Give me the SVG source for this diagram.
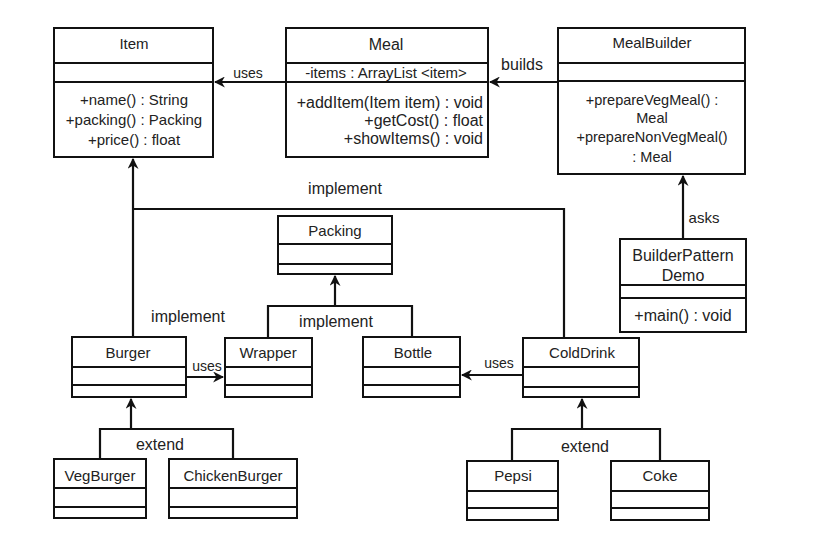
<svg xmlns="http://www.w3.org/2000/svg" width="828" height="538" viewBox="0 0 828 538">
<defs>
<style>
.b{fill:#fff;stroke:#111;stroke-width:2}
.l{stroke:#111;stroke-width:2;fill:none}
.c{stroke:#111;stroke-width:2.2;fill:none}
text{font-family:"Liberation Sans",Arial,sans-serif;font-size:15px;fill:#222}
.m{text-anchor:middle}
.e{text-anchor:end}
.lb{font-size:16px}
.s14{font-size:14px}
.s16{font-size:16px}
.s145{font-size:14.5px}
</style>
<marker id="ar" viewBox="0 0 10 10" refX="9" refY="5" markerWidth="5" markerHeight="5" orient="auto" markerUnits="strokeWidth">
<path d="M0,0 L10,5 L0,10 L3,5 Z" fill="#111"/>
</marker>
</defs>
<rect width="828" height="538" fill="#fff"/>
<g id="connectors">
<path class="c" d="M286,82 H215" marker-end="url(#ar)"/>
<path class="c" d="M557,82 H490" marker-end="url(#ar)"/>
<path class="c" d="M683,238 V176" marker-end="url(#ar)"/>
<path class="c" d="M133,337 V159" marker-end="url(#ar)"/>
<path class="c" d="M133,209 H564 V338"/>
<path class="c" d="M268,338 V306 H412 V337"/>
<path class="c" d="M335,306 V276" marker-end="url(#ar)"/>
<path class="c" d="M186,377 H223" marker-end="url(#ar)"/>
<path class="c" d="M523,375 H462" marker-end="url(#ar)"/>
<path class="c" d="M100,459 V429 H233 V459"/>
<path class="c" d="M131,429 V399" marker-end="url(#ar)"/>
<path class="c" d="M512,461 V429 H660 V461"/>
<path class="c" d="M582,429 V399" marker-end="url(#ar)"/>
<text x="248" y="78" class="m s14">uses</text>
<text x="522" y="70" class="m lb">builds</text>
<text x="704" y="223" class="m">asks</text>
<text x="345" y="194" class="m lb">implement</text>
<text x="188" y="322" class="m lb">implement</text>
<text x="336" y="327" class="m lb">implement</text>
<text x="207" y="371" class="m s14">uses</text>
<text x="499" y="368" class="m s14">uses</text>
<text x="160" y="450" class="m lb">extend</text>
<text x="585" y="452" class="m lb">extend</text>
</g>
<g id="item">
<rect class="b" x="54" y="28" width="159" height="129"/>
<path class="l" d="M54,63 H213 M54,82 H213"/>
<text x="134" y="49" class="m">Item</text>
<text x="134" y="105" class="m">+name() : String</text>
<text x="134" y="125" class="m">+packing() : Packing</text>
<text x="134" y="145" class="m">+price() : float</text>
</g>
<g id="meal">
<rect class="b" x="286" y="28" width="202" height="129"/>
<path class="l" d="M286,63 H488 M286,82 H488"/>
<text x="386" y="50" class="m s16">Meal</text>
<text x="386" y="78" class="m">-items : ArrayList &lt;item&gt;</text>
<text x="483" y="108" class="e s16">+addItem(Item item) : void</text>
<text x="483" y="126" class="e s16">+getCost() : float</text>
<text x="483" y="144" class="e s16">+showItems() : void</text>
</g>
<g id="mealbuilder">
<rect class="b" x="558" y="28" width="187" height="146"/>
<path class="l" d="M558,63 H745 M558,81 H745"/>
<text x="652" y="48" class="m">MealBuilder</text>
<text x="652" y="105" class="m s145">+prepareVegMeal() :</text>
<text x="652" y="123" class="m s145">Meal</text>
<text x="652" y="142" class="m s145">+prepareNonVegMeal()</text>
<text x="652" y="162" class="m s145">: Meal</text>
</g>
<g id="builderpatterndemo">
<rect class="b" x="620" y="239" width="126" height="93"/>
<path class="l" d="M620,285 H746 M620,298 H746"/>
<text x="683" y="261" class="m s16">BuilderPattern</text>
<text x="683" y="281" class="m s16">Demo</text>
<text x="683" y="321" class="m s16">+main() : void</text>
</g>
<g id="packing">
<rect class="b" x="278" y="216" width="114" height="58"/>
<path class="l" d="M278,244 H392 M278,264 H392"/>
<text x="335" y="236" class="m">Packing</text>
</g>
<g id="burger">
<rect class="b" x="72" y="337" width="114" height="60"/>
<path class="l" d="M72,367 H186 M72,385 H186"/>
<text x="128" y="358" class="m">Burger</text>
</g>
<g id="wrapper">
<rect class="b" x="225" y="338" width="87" height="59"/>
<path class="l" d="M225,367 H312 M225,385 H312"/>
<text x="268" y="358" class="m">Wrapper</text>
</g>
<g id="bottle">
<rect class="b" x="363" y="337" width="97" height="60"/>
<path class="l" d="M363,367 H460 M363,385 H460"/>
<text x="413" y="358" class="m">Bottle</text>
</g>
<g id="colddrink">
<rect class="b" x="523" y="338" width="116" height="59"/>
<path class="l" d="M523,367 H639 M523,387 H639"/>
<text x="582" y="358" class="m">ColdDrink</text>
</g>
<g id="vegburger">
<rect class="b" x="54" y="459" width="92" height="59"/>
<path class="l" d="M54,488 H146 M54,507 H146"/>
<text x="100" y="481" class="m">VegBurger</text>
</g>
<g id="chickenburger">
<rect class="b" x="169" y="459" width="128" height="59"/>
<path class="l" d="M169,488 H297 M169,507 H297"/>
<text x="233" y="481" class="m">ChickenBurger</text>
</g>
<g id="pepsi">
<rect class="b" x="467" y="461" width="91" height="59"/>
<path class="l" d="M467,491 H558 M467,508 H558"/>
<text x="513" y="481" class="m">Pepsi</text>
</g>
<g id="coke">
<rect class="b" x="611" y="461" width="98" height="59"/>
<path class="l" d="M611,491 H709 M611,508 H709"/>
<text x="660" y="481" class="m">Coke</text>
</g>
</svg>
